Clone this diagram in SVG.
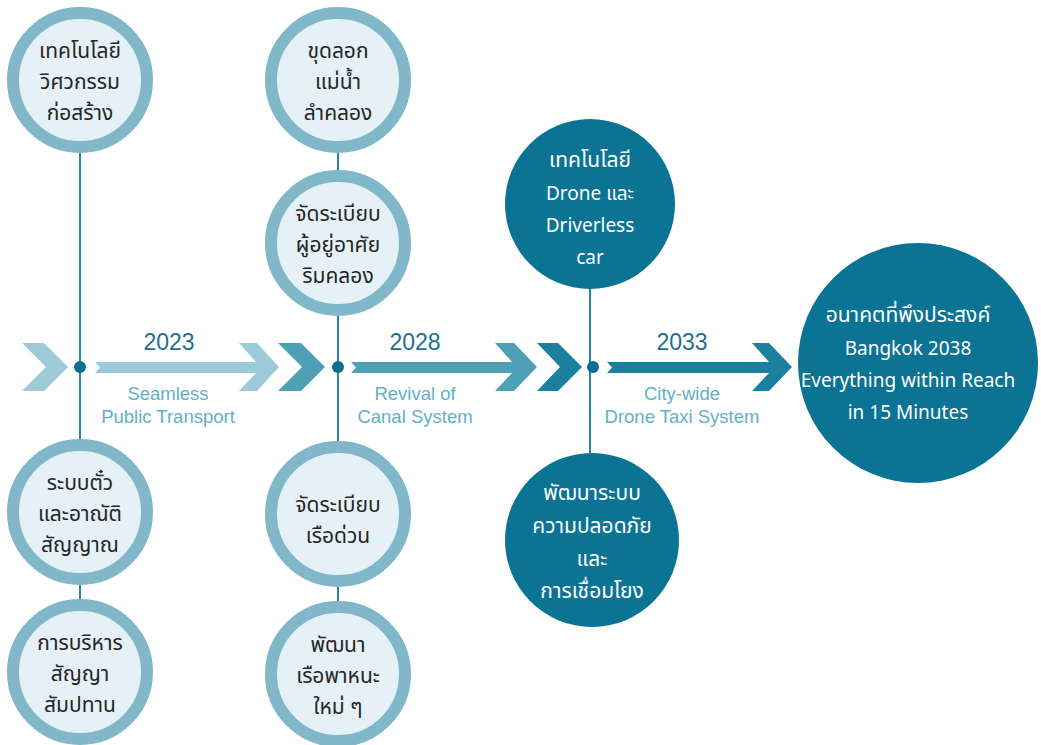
<svg xmlns="http://www.w3.org/2000/svg" width="1041" height="745" viewBox="0 0 1041 745">
<style>
.ring{fill:#e5f1f6;stroke:#80b8c9;stroke-width:12}
.dark{fill:#0b7393}
.vline{stroke:#2486a6;stroke-width:2;fill:none}
.dot{fill:#0b6e8c}
.t{font-family:"Noto Sans Thai","Noto Sans","Liberation Sans",sans-serif;font-size:21px;fill:#262626;text-anchor:middle}
.w{font-family:"Noto Sans Thai","Liberation Sans","Noto Sans",sans-serif;font-size:19px;fill:#ffffff;text-anchor:middle}
.wt{font-size:21px}
.yr{font-family:"Liberation Sans",Arial,sans-serif;font-size:23px;fill:#1d6f8d;text-anchor:middle}
.sub{font-family:"Liberation Sans",Arial,sans-serif;font-size:18.5px;fill:#62b0c7;text-anchor:middle}
.c1{fill:#9ccbd7}.c2{fill:#4fa0b5}.c3{fill:#1b7f9e}
</style>
<rect width="1041" height="745" fill="#ffffff"/>
<g id="connectors">
<line class="vline" x1="80" y1="150" x2="80" y2="442"/>
<line class="vline" x1="80" y1="582" x2="80" y2="602"/>
<line class="vline" x1="338" y1="150" x2="338" y2="172"/>
<line class="vline" x1="338" y1="314" x2="338" y2="446"/>
<line class="vline" x1="338" y1="582" x2="338" y2="606"/>
<line class="vline" x1="590" y1="285" x2="590" y2="458"/>
<polygon class="c1" points="22,343 44,343 68,367 44,391 22,391 46,367"/>
<polygon class="c1" points="95,362 256,362 239,343 257,343 279,367 257,391 239,391 256,373 95,373 100,367.5"/>
<polygon class="c2" points="278,343 301,343 325,367 301,391 278,391 302,367"/>
<polygon class="c2" points="351,362 512,362 495,343 514,343 537,367 514,391 495,391 512,373 351,373 356,367.5"/>
<polygon class="c3" points="537,343 558,343 582,367 558,391 537,391 560,367"/>
<polygon class="c3" points="607,362 769,362 752,343 769,343 792,367 769,391 752,391 769,373 607,373 612,367.5"/>
<circle class="dot" cx="80" cy="367" r="6"/>
<circle class="dot" cx="338" cy="367" r="6"/>
<circle class="dot" cx="593" cy="367" r="6"/>
</g>
<g id="labels">
<text class="yr" x="169" y="350">2023</text>
<text class="sub" x="168" y="400">Seamless</text>
<text class="sub" x="168" y="423">Public Transport</text>
<text class="yr" x="415" y="350">2028</text>
<text class="sub" x="415" y="400">Revival of</text>
<text class="sub" x="415" y="423">Canal System</text>
<text class="yr" x="682" y="350">2033</text>
<text class="sub" x="682" y="400">City-wide</text>
<text class="sub" x="682" y="423">Drone Taxi System</text>
</g>
<g id="n1"><circle class="ring" cx="80" cy="80" r="67"/>
<text class="t" x="80" y="58">เทคโนโลยี</text><text class="t" x="80" y="89">วิศวกรรม</text><text class="t" x="80" y="120">ก่อสร้าง</text></g>
<g id="n2"><circle class="ring" cx="80" cy="512" r="67"/>
<text class="t" x="80" y="490">ระบบตั๋ว</text><text class="t" x="80" y="521">และอาณัติ</text><text class="t" x="80" y="552">สัญญาณ</text></g>
<g id="n3"><circle class="ring" cx="80" cy="672" r="67"/>
<text class="t" x="80" y="650">การบริหาร</text><text class="t" x="80" y="681">สัญญา</text><text class="t" x="80" y="712">สัมปทาน</text></g>
<g id="n4"><circle class="ring" cx="338" cy="80" r="67"/>
<text class="t" x="338" y="58">ขุดลอก</text><text class="t" x="338" y="89">แม่น้ำ</text><text class="t" x="338" y="120">ลำคลอง</text></g>
<g id="n5"><circle class="ring" cx="338" cy="243" r="67"/>
<text class="t" x="338" y="221">จัดระเบียบ</text><text class="t" x="338" y="252">ผู้อยู่อาศัย</text><text class="t" x="338" y="283">ริมคลอง</text></g>
<g id="n6"><circle class="ring" cx="338" cy="514" r="67"/>
<text class="t" x="338" y="512">จัดระเบียบ</text><text class="t" x="338" y="543">เรือด่วน</text></g>
<g id="n7"><circle class="ring" cx="338" cy="674" r="67"/>
<text class="t" x="338" y="652">พัฒนา</text><text class="t" x="338" y="683">เรือพาหนะ</text><text class="t" x="338" y="714">ใหม่ ๆ</text></g>
<g id="n8"><circle class="dark" cx="590" cy="204" r="85"/>
<text class="w wt" x="590" y="167">เทคโนโลยี</text><text class="w" x="590" y="200">Drone และ</text><text class="w" x="590" y="232">Driverless</text><text class="w" x="590" y="264">car</text></g>
<g id="n9"><circle class="dark" cx="592" cy="540" r="87"/>
<text class="w wt" x="592" y="500">พัฒนาระบบ</text><text class="w wt" x="592" y="533">ความปลอดภัย</text><text class="w wt" x="592" y="566">และ</text><text class="w wt" x="592" y="598">การเชื่อมโยง</text></g>
<g id="n10"><circle class="dark" cx="918" cy="363" r="120"/>
<text class="w wt" x="908" y="322">อนาคตที่พึงประสงค์</text><text class="w" x="908" y="355">Bangkok 2038</text><text class="w" x="908" y="387">Everything within Reach</text><text class="w" x="908" y="419">in 15 Minutes</text></g>
</svg>
